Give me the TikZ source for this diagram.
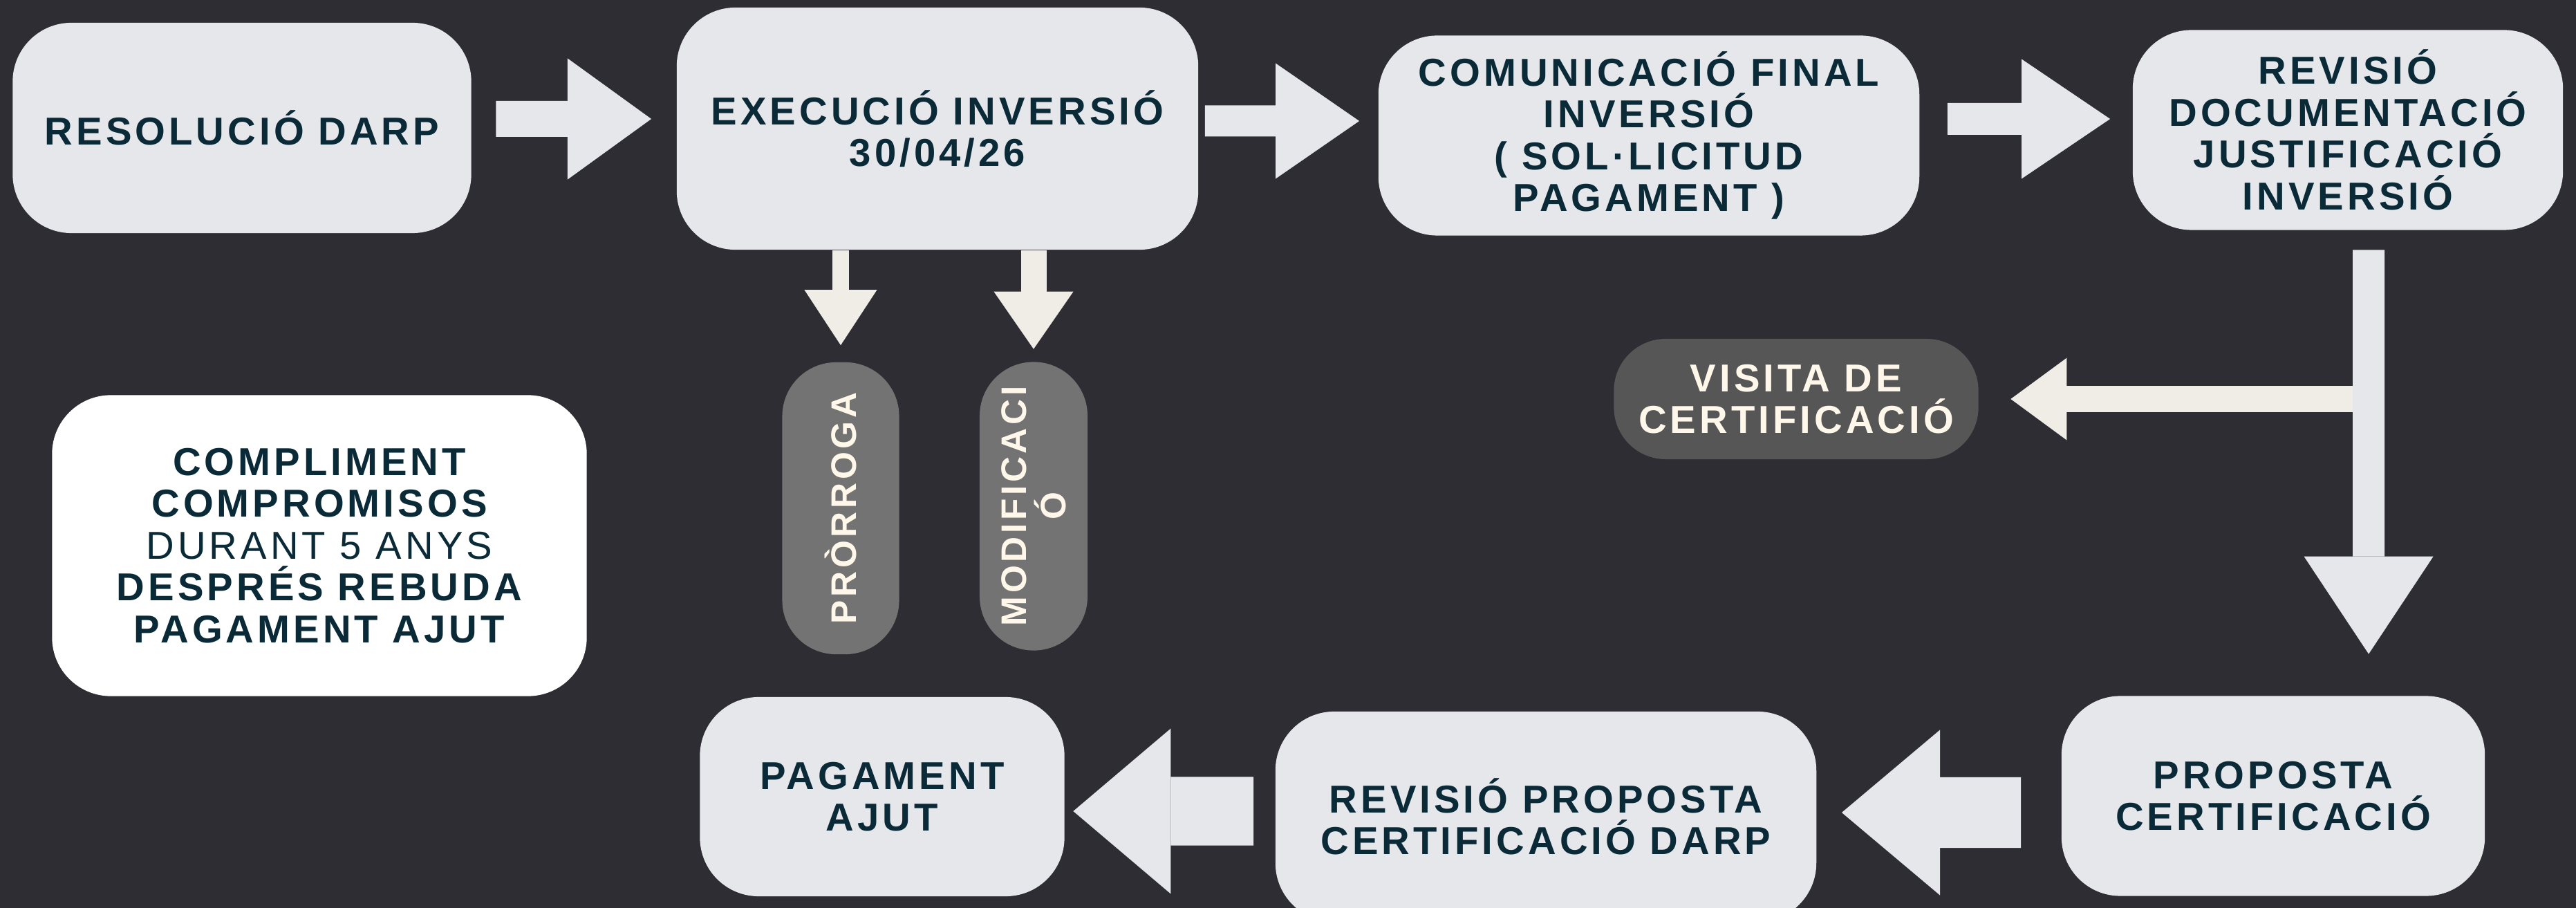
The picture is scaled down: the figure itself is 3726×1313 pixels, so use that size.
\documentclass[tikz,border=0pt]{standalone}
\usepackage{fontspec}
\setmainfont{Liberation Sans}[LetterSpace=9]
\usetikzlibrary{arrows.meta}

\definecolor{fons}{HTML}{2E2D33}
\definecolor{clar}{HTML}{E6E7EB}
\definecolor{tinta}{HTML}{0B2A38}
\definecolor{crema}{HTML}{EFEDE6}
\definecolor{gris}{HTML}{737373}
\definecolor{grisfosc}{HTML}{565656}
\definecolor{lletra}{HTML}{FFF8EA}

\begin{document}
\begin{tikzpicture}[x=0.01cm, y=-0.01cm,
    etapa/.style={fill=clar, rounded corners=0.85cm, align=center, inner sep=0pt,
        text=tinta, font=\fontsize{16}{17.2}\selectfont\bfseries},
    pastilla/.style={fill=gris, rotate=90, rounded corners=0.78cm, align=center, inner sep=0pt,
        text=lletra, font=\fontsize{14.6}{16.2}\selectfont\bfseries},
    avis/.style={fill=grisfosc, rounded corners=0.75cm, align=center, inner sep=0pt,
        text=lletra, font=\fontsize{16}{17.2}\selectfont\bfseries},
    fletxa/.style n args={3}{draw=clar, line width=#1, -{Triangle[length=#2, width=#3, line width=0pt]}}]
    \useasboundingbox (0,0) rectangle (3726,1313);
    \fill[fons] (0,0) rectangle (3726,1313);
    \clip (0,0) rectangle (3726,1313);

    % fila de dalt
    \node[etapa, minimum width=6.63cm, minimum height=3.04cm] (resolucio) at (350,185) {RESOLUCIÓ DARP};
    \node[etapa, minimum width=7.54cm, minimum height=3.50cm] (execucio) at (1356,186) {EXECUCIÓ INVERSIÓ\\30/04/26};
    \node[etapa, minimum width=7.82cm, minimum height=2.89cm] (comunicacio) at (2385,196) {COMUNICACIÓ FINAL\\INVERSIÓ\\( SOL·LICITUD\\PAGAMENT )};
    \node[etapa, minimum width=6.22cm, minimum height=2.89cm] (revisio) at (3396,188) {REVISIÓ\\DOCUMENTACIÓ\\JUSTIFICACIÓ\\INVERSIÓ};

    % fila del mig
    \node[pastilla, minimum width=4.22cm, minimum height=1.69cm] (prorroga) at (1216,735) {PRÒRROGA};
    \node[pastilla, minimum width=4.17cm, minimum height=1.56cm] (modificacio) at (1495,732) {MODIFICACI\\Ó};
    \node[avis, minimum width=5.27cm, minimum height=1.74cm] (visita) at (2598,577) {VISITA DE\\CERTIFICACIÓ};
    \node[etapa, fill=white, minimum width=7.73cm, minimum height=4.35cm] (compliment) at (462,789) {COMPLIMENT\\COMPROMISOS\\{\mdseries DURANT 5 ANYS}\\DESPRÉS REBUDA\\PAGAMENT AJUT};

    % fila de baix
    \node[etapa, minimum width=5.27cm, minimum height=2.88cm] (pagament) at (1276,1152) {PAGAMENT\\AJUT};
    \node[etapa, minimum width=7.82cm, minimum height=3.04cm] (revproposta) at (2236,1181) {REVISIÓ PROPOSTA\\CERTIFICACIÓ DARP};
    \node[etapa, minimum width=6.12cm, minimum height=2.89cm] (proposta) at (3288,1151) {PROPOSTA\\CERTIFICACIÓ};

    % fletxes
    \draw[fletxa={0.52cm}{1.21cm}{1.75cm}, shorten <=0.35cm, shorten >=0.36cm] ([yshift=0.13cm]resolucio.east) -- ([yshift=0.14cm]execucio.west);
    \draw[fletxa={0.45cm}{1.21cm}{1.67cm}, shorten <=0.09cm, shorten >=0.27cm] ([yshift=0.11cm]execucio.east) -- ([yshift=0.21cm]comunicacio.west);
    \draw[fletxa={0.46cm}{1.28cm}{1.73cm}, shorten <=0.40cm, shorten >=0.32cm] ([yshift=0.24cm]comunicacio.east) -- ([yshift=0.16cm]revisio.west);
    \draw[fletxa={0.24cm}{0.80cm}{1.05cm}, draw=crema, shorten >=0.24cm] (execucio.south -| prorroga.center) -- (prorroga.east);
    \draw[fletxa={0.37cm}{0.83cm}{1.15cm}, draw=crema, shorten >=0.18cm] (execucio.south -| modificacio.center) -- (modificacio.east);

    \coordinate (desviament) at (3426,577);
    \draw[fletxa={0.38cm}{0.81cm}{1.19cm}, draw=crema, shorten >=0.46cm] (desviament) -- (visita.east);
    \draw[fletxa={0.46cm}{1.41cm}{1.87cm}, shorten <=0.28cm, shorten >=0.60cm] ([xshift=0.30cm]revisio.south) -- ([xshift=1.38cm]proposta.north);

    \draw[fletxa={1.02cm}{1.42cm}{2.39cm}, shorten <=0.58cm, shorten >=0.36cm] ([yshift=-0.24cm]proposta.west) -- ([yshift=0.06cm]revproposta.east);
    \draw[fletxa={0.99cm}{1.41cm}{2.39cm}, shorten <=0.31cm, shorten >=0.12cm] ([yshift=0.08cm]revproposta.west) -- ([yshift=-0.21cm]pagament.east);
\end{tikzpicture}
\end{document}
